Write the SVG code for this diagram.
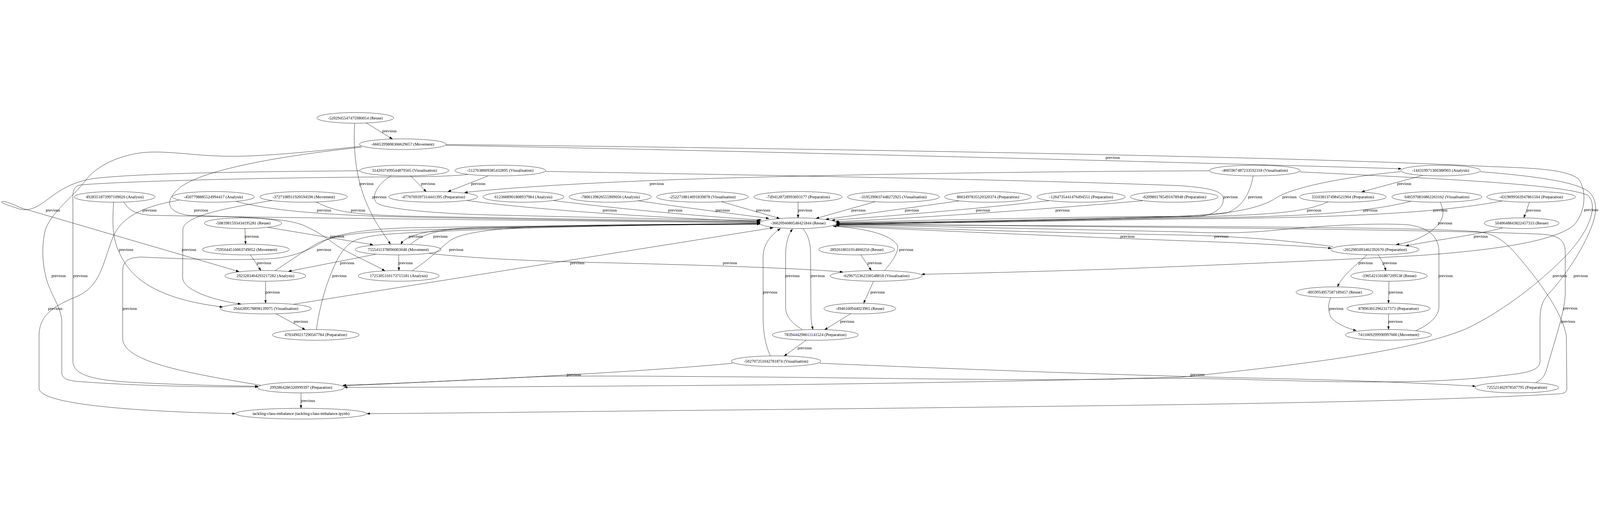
<svg xmlns="http://www.w3.org/2000/svg" width="7043" height="1363" viewBox="0 0 7043 1363" style="width:100%;height:100%">
<style>
.node ellipse{fill:none;stroke:#000;stroke-width:1.3}
text{font-family:"Liberation Serif","Times New Roman",serif;font-size:18.3px;fill:#000}
.node text{text-anchor:middle}
.edge path{fill:none;stroke:#000;stroke-width:1.3;marker-end:url(#arr)}
.edge text{text-anchor:middle}
</style>
<defs>
<marker id="arr" markerUnits="userSpaceOnUse" markerWidth="14" markerHeight="10" refX="13" refY="4.5" orient="auto"><path d="M0,0 L13,4.5 L0,9 z" fill="#000" stroke="#000" stroke-width="1"/></marker>
</defs>
<rect width="7043" height="1363" fill="#fff"/>
<g id="edges">
<g class="edge"><path d="M1612,51 L1727,122"/><text x="1714" y="93">previous</text></g>
<g class="edge"><path d="M1561,53 C1553,200 1575,320 1620,420 C1660,510 1700,550 1718,586"/><text x="1613" y="325">previous</text></g>
<g class="edge"><path d="M1590,154 C1350,180 1150,200 1000,198 C850,196 720,170 620,183 C500,200 420,250 380,300 C320,380 230,440 200,520 C180,600 190,680 200,720 C215,800 272,860 272,930 L272,1150 C272,1180 300,1185 340,1190 C600,1210 900,1215 1136,1214"/><text x="258" y="731">previous</text></g>
<g class="edge"><path d="M1592,158 C1200,200 900,260 800,330 C720,390 730,445 830,458 C1100,468 1250,470 1330,500 C1400,530 1440,560 1480,590 C1560,640 1640,670 1694,703"/><text x="885" y="441">previous</text></g>
<g class="edge"><path d="M2060,278 C1980,288 1800,289 1700,289 C1100,293 500,310 350,325 C315,335 321,370 321,420 L321,1100 C321,1160 400,1185 600,1195 C800,1205 1000,1210 1136,1211"/><text x="354" y="731">previous</text></g>
<g class="edge"><path d="M1584,262 C1200,265 650,270 420,295 C280,315 230,380 170,415 C130,438 100,438 70,425 C30,412 0,402 8,398 C16,394 50,405 90,425 L1052,706"/><text x="233" y="441">previous</text></g>
<g class="edge"><path d="M545,400 C570,440 600,452 660,458 C1200,470 2800,485 3345,491"/><text x="658" y="441">previous</text></g>
<g class="edge"><path d="M1040,397 C1200,440 1450,458 1800,466 C2500,480 3100,486 3346,489"/><text x="1426" y="441">previous</text></g>
<g class="edge"><path d="M1393,400 C1470,440 1540,455 1800,462 C2500,476 3100,482 3347,486"/><text x="1576" y="441">previous</text></g>
<g class="edge"><path d="M1198,393 C1000,425 810,460 805,520 L804,732 C804,790 950,835 1060,849"/><text x="832" y="615">previous</text></g>
<g class="edge"><path d="M500,401 C495,500 490,570 545,660 C620,790 800,840 980,862"/><text x="555" y="615">previous</text></g>
<g class="edge"><path d="M787,392 C620,420 530,470 495,560 C450,680 440,770 340,815 C230,860 172,900 172,990 L172,1220 C172,1300 700,1325 1036,1332"/><text x="243" y="875">previous</text></g>
<g class="edge"><path d="M1722,284 C1660,320 1630,380 1660,405 C1700,430 1900,448 2100,455 C2700,470 3100,478 3346,481"/><text x="1670" y="383">previous</text></g>
<g class="edge"><path d="M1807,284 L1876,354"/><text x="1884" y="325">previous</text></g>
<g class="edge"><path d="M2148,285 L1972,354"/><text x="2105" y="325">previous</text></g>
<g class="edge"><path d="M5323,262 C4500,265 3600,280 3000,300 C2500,318 2200,340 2045,358"/><text x="2891" y="325">previous</text></g>
<g class="edge"><path d="M2056,393 C2400,440 3000,474 3344,485"/><text x="2684" y="441">previous</text></g>
<g class="edge"><path d="M2435,393 C2800,440 3200,470 3352,479"/><text x="2972" y="441">previous</text></g>
<g class="edge"><path d="M2808,394 C3050,430 3300,460 3385,472"/><text x="3181" y="441">previous</text></g>
<g class="edge"><path d="M3175,398 L3432,472"/><text x="3359" y="441">previous</text></g>
<g class="edge"><path d="M3513,400 L3513,469"/><text x="3544" y="441">previous</text></g>
<g class="edge"><path d="M3853,398 L3592,472"/><text x="3779" y="441">previous</text></g>
<g class="edge"><path d="M4221,395 L3635,476"/><text x="4014" y="441">previous</text></g>
<g class="edge"><path d="M4617,394 C4200,440 3800,470 3662,480"/><text x="4327" y="441">previous</text></g>
<g class="edge"><path d="M5030,394 C4500,440 3900,478 3678,486"/><text x="4677" y="441">previous</text></g>
<g class="edge"><path d="M2402,265 C3000,275 4500,300 5200,328 C5330,338 5382,352 5385,385 C5388,430 5330,466 5250,464 C5000,458 4000,482 3682,490"/><text x="5417" y="383">previous</text></g>
<g class="edge"><path d="M5516,285 C5505,350 5475,420 5400,448 C5200,478 4000,488 3683,492"/><text x="5525" y="383">previous</text></g>
<g class="edge"><path d="M6166,266 C5950,285 5700,330 5620,380 C5560,420 5450,452 5200,462 C4500,480 3900,492 3683,494"/><text x="5676" y="383">previous</text></g>
<g class="edge"><path d="M5846,399 C5750,440 5650,456 5200,466 C4500,482 3900,494 3683,496"/><text x="5784" y="441">previous</text></g>
<g class="edge"><path d="M6212,396 C6000,450 5700,466 5200,470 C4500,484 3900,496 3683,497"/><text x="6032" y="441">previous</text></g>
<g class="edge"><path d="M6612,395 C6300,455 5800,470 5200,474 C4500,486 3900,497 3683,499"/><text x="6340" y="441">previous</text></g>
<g class="edge"><path d="M6264,282 L5994,355"/><text x="6181" y="325">previous</text></g>
<g class="edge"><path d="M1963,150 C2800,165 4500,205 6168,253"/><text x="4898" y="209">previous</text></g>
<g class="edge"><path d="M1963,146 C3000,158 5500,190 6550,243 C6750,250 6900,255 6950,300 C6985,350 6980,440 6930,500 C6850,570 6600,610 6250,635 C5800,660 5200,683 4900,695 C4500,708 4250,714 4057,718"/><text x="7004" y="440">previous</text></g>
<g class="edge"><path d="M6340,400 C6355,440 6360,460 6330,500 C6280,555 6200,580 6146,587"/><text x="6361" y="499">previous</text></g>
<g class="edge"><path d="M6732,401 L6708,469"/><text x="6751" y="441">previous</text></g>
<g class="edge"><path d="M6616,513 C6500,545 6300,570 6188,593"/><text x="6518" y="557">previous</text></g>
<g class="edge"><path d="M6017,632 C5970,680 5910,720 5888,773"/><text x="6011" y="673">previous</text></g>
<g class="edge"><path d="M6066,632 C6085,660 6095,680 6100,702"/><text x="6117" y="673">previous</text></g>
<g class="edge"><path d="M6114,749 L6112,845"/><text x="6144" y="803">previous</text></g>
<g class="edge"><path d="M6112,893 L6112,961"/><text x="6142" y="932">previous</text></g>
<g class="edge"><path d="M5858,821 C5845,850 5845,880 5860,910 C5890,940 5930,955 5970,966"/><text x="5882" y="875">previous</text></g>
<g class="edge"><path d="M6232,967 C6300,935 6334,900 6334,860 L6334,620 C6334,560 6300,515 6200,500 C6050,490 5800,505 5600,525 C5450,540 5300,535 5200,531 C4700,520 4000,505 3681,500"/><text x="6363" y="731">previous</text></g>
<g class="edge"><path d="M3665,505 C4200,530 4800,555 5200,570 C5500,580 5700,592 5860,603"/><text x="4963" y="557">previous</text></g>
<g class="edge"><path d="M5868,596 C5600,560 5400,550 5200,545 C4500,532 4000,515 3680,502"/><text x="5376" y="557">previous</text></g>
<g class="edge"><path d="M3678,498 C4200,502 4800,505 5200,507 C5700,510 6300,515 6500,530 C6600,540 6640,590 6700,660 C6800,780 6880,900 6895,990 L6897,1220 C6898,1238 6885,1243 6860,1245 C6500,1265 6000,1280 5200,1292 C4500,1302 3400,1314 3000,1318 C2500,1323 2000,1330 1615,1332"/><text x="6902" y="932">previous</text></g>
<g class="edge"><path d="M6761,1195 C6790,1180 6800,1165 6810,1130 C6840,1020 6890,880 6890,800 L6890,620 C6890,560 6850,545 6780,541 C6500,530 6000,520 5200,512 C4500,505 4000,499 3683,496"/><text x="6912" y="874">previous</text></g>
<g class="edge"><path d="M6516,266 C6750,285 6950,310 7000,360 C7040,410 7030,470 6968,591 C6930,660 6890,720 6830,790 C6790,830 6779,860 6779,920 L6779,1100 C6779,1135 6740,1150 6650,1160 C6400,1190 6200,1196 5800,1190 C5400,1180 5200,1171 4900,1180 C4600,1186 4200,1180 3400,1171 C3000,1168 2600,1164 2400,1168 C2100,1180 1800,1198 1510,1209"/><text x="6958" y="730">previous</text></g>
<g class="edge"><path d="M5722,267 C6300,295 6880,320 6990,370 C7040,420 6990,540 6880,650 C6780,750 6620,880 6450,960 C6250,1040 5900,1100 5200,1171 C4500,1190 3800,1200 3400,1205 C2800,1210 2000,1216 1516,1216"/><text x="6866" y="730">previous</text></g>
<g class="edge"><path d="M3608,1110 C4200,1135 5000,1165 5500,1175 C6000,1185 6300,1200 6495,1211"/><text x="5271" y="1165">previous</text></g>
<g class="edge"><path d="M3225,1110 C2800,1150 2000,1190 1510,1207"/><text x="2526" y="1165">previous</text></g>
<g class="edge"><path d="M3391,1078 C3370,1030 3359,980 3359,900 L3359,640 C3360,580 3400,540 3435,517"/><text x="3390" y="803">previous</text></g>
<g class="edge"><path d="M3532,962 C3480,930 3458,900 3458,860 L3458,640 C3458,580 3470,545 3488,519"/><text x="3488" y="731">previous</text></g>
<g class="edge"><path d="M3533,516 C3555,540 3568,575 3568,630 L3570,900 C3571,930 3575,945 3578,961"/><text x="3599" y="731">previous</text></g>
<g class="edge"><path d="M3894,701 C3920,670 3960,620 3950,590 C3920,540 3800,515 3668,506"/><text x="3989" y="615">previous</text></g>
<g class="edge"><path d="M3789,632 L3835,701"/><text x="3850" y="673">previous</text></g>
<g class="edge"><path d="M3845,749 L3802,845"/><text x="3863" y="803">previous</text></g>
<g class="edge"><path d="M3744,892 L3630,962"/><text x="3729" y="932">previous</text></g>
<g class="edge"><path d="M3549,1008 L3452,1078"/><text x="3542" y="1048">previous</text></g>
<g class="edge"><path d="M1889,626 C2100,650 2400,662 2700,668 C3100,678 3500,690 3710,708"/><text x="3213" y="673">previous</text></g>
<g class="edge"><path d="M1292,850 L3403,513"/><text x="2541" y="673">previous</text></g>
<g class="edge"><path d="M1755,633 L1756,701"/><text x="1785" y="673">previous</text></g>
<g class="edge"><path d="M1653,630 L1270,705"/><text x="1528" y="673">previous</text></g>
<g class="edge"><path d="M1177,511 L1642,588"/><text x="1484" y="557">previous</text></g>
<g class="edge"><path d="M3345,497 C3000,500 2500,505 2100,512 C1900,520 1790,540 1765,585"/><text x="1830" y="557">previous</text></g>
<g class="edge"><path d="M1806,586 C1840,560 1880,530 2000,520 C2400,505 3000,497 3345,494"/><text x="1939" y="557">previous</text></g>
<g class="edge"><path d="M1815,702 C1880,660 1930,610 1980,570 C2050,520 2300,505 2700,500 C3000,497 3200,496 3345,495"/><text x="2008" y="615">previous</text></g>
<g class="edge"><path d="M1393,962 C1400,900 1420,820 1440,760 C1470,680 1500,600 1560,570 C1620,545 1700,542 1800,535 C2200,515 2800,500 3345,496"/><text x="1494" y="731">previous</text></g>
<g class="edge"><path d="M1211,702 C1260,670 1330,620 1400,580 C1470,545 1600,530 1800,524 C2300,510 2900,498 3345,495"/><text x="1426" y="615">previous</text></g>
<g class="edge"><path d="M1078,516 L1081,585"/><text x="1108" y="557">previous</text></g>
<g class="edge"><path d="M1102,632 L1148,701"/><text x="1162" y="673">previous</text></g>
<g class="edge"><path d="M1169,749 L1169,845"/><text x="1200" y="803">previous</text></g>
<g class="edge"><path d="M1215,892 L1343,962"/><text x="1324" y="932">previous</text></g>
<g class="edge"><path d="M1148,1207 C800,1150 540,1100 540,1000 L540,710 C540,660 560,645 620,642 C800,650 1000,658 1180,650 C1300,645 1380,600 1420,575 C1480,540 1600,520 1800,513 C2300,505 2900,500 3345,497"/><text x="571" y="875">previous</text></g>
<g class="edge"><path d="M1325,1241 L1325,1308"/><text x="1355" y="1281">previous</text></g>
</g>
<g id="n_5202" class="node"><ellipse cx="1564" cy="29" rx="169" ry="23.5"/><text x="1564" y="35">-5202945547475980054 (Reuse)</text></g>
<g id="n_6665" class="node"><ellipse cx="1773" cy="145" rx="191" ry="23.5"/><text x="1773" y="151">-6665399808366629657 (Movement)</text></g>
<g id="n_3142" class="node"><ellipse cx="1780" cy="261" rx="196" ry="23.5"/><text x="1780" y="267">3142037499544879565 (Visualisation)</text></g>
<g id="n_5127" class="node"><ellipse cx="2202" cy="261" rx="200" ry="23.5"/><text x="2202" y="267">-5127638009385432895 (Visualisation)</text></g>
<g id="n_4605" class="node"><ellipse cx="5523" cy="261" rx="200" ry="23.5"/><text x="5523" y="267">-4605967487233592318 (Visualisation)</text></g>
<g id="n_1443" class="node"><ellipse cx="6341" cy="261" rx="175" ry="23.5"/><text x="6341" y="267">-144319971300388903 (Analysis)</text></g>
<g id="n_4928" class="node"><ellipse cx="505" cy="377" rx="178" ry="23.5"/><text x="505" y="383">4928351873997109026 (Analysis)</text></g>
<g id="n_4507" class="node"><ellipse cx="939" cy="377" rx="181" ry="23.5"/><text x="939" y="383">-4507798885524994417 (Analysis)</text></g>
<g id="n_3727" class="node"><ellipse cx="1337" cy="377" rx="192" ry="23.5"/><text x="1337" y="383">-3727108911920594596 (Movement)</text></g>
<g id="n_4776" class="node"><ellipse cx="1907" cy="377" rx="196" ry="23.5"/><text x="1907" y="383">-4776769397314441395 (Preparation)</text></g>
<g id="n_6123" class="node"><ellipse cx="2304" cy="377" rx="178" ry="23.5"/><text x="2304" y="383">6123688901808937984 (Analysis)</text></g>
<g id="n_7806" class="node"><ellipse cx="2686" cy="377" rx="181" ry="23.5"/><text x="2686" y="383">-7806139826555909056 (Analysis)</text></g>
<g id="n_2522" class="node"><ellipse cx="3092" cy="377" rx="202" ry="23.5"/><text x="3092" y="383">-2522718814691839878 (Visualisation)</text></g>
<g id="n_7494" class="node"><ellipse cx="3513" cy="377" rx="194" ry="23.5"/><text x="3513" y="383">-7494128728993693177 (Preparation)</text></g>
<g id="n_3105" class="node"><ellipse cx="3933" cy="377" rx="202" ry="23.5"/><text x="3933" y="383">-3105390637448272925 (Visualisation)</text></g>
<g id="n_8663" class="node"><ellipse cx="4349" cy="377" rx="191" ry="23.5"/><text x="4349" y="383">8663497835520320374 (Preparation)</text></g>
<g id="n_1264" class="node"><ellipse cx="4759" cy="377" rx="194" ry="23.5"/><text x="4759" y="383">-1264735441476494551 (Preparation)</text></g>
<g id="n_6209" class="node"><ellipse cx="5169" cy="377" rx="193" ry="23.5"/><text x="5169" y="383">-6209801785491678948 (Preparation)</text></g>
<g id="n_3310" class="node"><ellipse cx="5911" cy="377" rx="191" ry="23.5"/><text x="5911" y="383">3310381374984521904 (Preparation)</text></g>
<g id="n_6465" class="node"><ellipse cx="6325" cy="377" rx="198" ry="23.5"/><text x="6325" y="383">6465970816862263162 (Visualisation)</text></g>
<g id="n_4319" class="node"><ellipse cx="6740" cy="377" rx="195" ry="23.5"/><text x="6740" y="383">-4319099563947861504 (Preparation)</text></g>
<g id="n_3602" class="node"><ellipse cx="3513" cy="493" rx="169" ry="23.5"/><text x="3513" y="499">-3602094680548421844 (Reuse)</text></g>
<g id="n_5083" class="node"><ellipse cx="1070" cy="493" rx="170" ry="23.5"/><text x="1070" y="499">-5083981593434195281 (Reuse)</text></g>
<g id="n_5040" class="node"><ellipse cx="6698" cy="493" rx="165" ry="23.5"/><text x="6698" y="499">5040648843822457333 (Reuse)</text></g>
<g id="n_7595" class="node"><ellipse cx="1082" cy="609" rx="192" ry="23.5"/><text x="1082" y="615">-7595644516063749052 (Movement)</text></g>
<g id="n_7555" class="node"><ellipse cx="1753" cy="609" rx="189" ry="23.5"/><text x="1753" y="615">7555411378096003048 (Movement)</text></g>
<g id="n_2892" class="node"><ellipse cx="3771" cy="609" rx="167" ry="23.5"/><text x="3771" y="615">2892618031914860256 (Reuse)</text></g>
<g id="n_2652" class="node"><ellipse cx="6052" cy="609" rx="194" ry="23.5"/><text x="6052" y="615">-2652985093462392670 (Preparation)</text></g>
<g id="n_2923" class="node"><ellipse cx="1168" cy="725" rx="178" ry="23.5"/><text x="1168" y="731">2923283404293217282 (Analysis)</text></g>
<g id="n_1725" class="node"><ellipse cx="1755" cy="725" rx="178" ry="23.5"/><text x="1755" y="731">1725305316173715181 (Analysis)</text></g>
<g id="n_6296" class="node"><ellipse cx="3857" cy="725" rx="203" ry="23.5"/><text x="3857" y="731">-6296755362330548818 (Visualisation)</text></g>
<g id="n_1965" class="node"><ellipse cx="6114" cy="725" rx="168" ry="23.5"/><text x="6114" y="731">-1965421501807209538 (Reuse)</text></g>
<g id="n_8059" class="node"><ellipse cx="5874" cy="797" rx="169" ry="23.5"/><text x="5874" y="803">-8059954957587189457 (Reuse)</text></g>
<g id="n_2644" class="node"><ellipse cx="1170" cy="869" rx="200" ry="23.5"/><text x="1170" y="875">2644289578898139975 (Visualisation)</text></g>
<g id="n_4946" class="node"><ellipse cx="3785" cy="869" rx="158" ry="23.5"/><text x="3785" y="875">-4946160944023965 (Reuse)</text></g>
<g id="n_8789" class="node"><ellipse cx="6112" cy="869" rx="183" ry="23.5"/><text x="6112" y="875">878963012962317373 (Preparation)</text></g>
<g id="n_4703" class="node"><ellipse cx="1390" cy="985" rx="191" ry="23.5"/><text x="1390" y="991">4703490217290567784 (Preparation)</text></g>
<g id="n_7839" class="node"><ellipse cx="3589" cy="985" rx="189" ry="23.5"/><text x="3589" y="991">7839444298611141524 (Preparation)</text></g>
<g id="n_7411" class="node"><ellipse cx="6112" cy="985" rx="189" ry="23.5"/><text x="6112" y="991">7411669299990997600 (Movement)</text></g>
<g id="n_5027" class="node"><ellipse cx="3416" cy="1101" rx="197" ry="23.5"/><text x="3416" y="1107">-502707251042781874 (Visualisation)</text></g>
<g id="n_2992" class="node"><ellipse cx="1325" cy="1217" rx="191" ry="23.5"/><text x="1325" y="1223">2992864286320999397 (Preparation)</text></g>
<g id="n_7255" class="node"><ellipse cx="6677" cy="1217" rx="184" ry="23.5"/><text x="6677" y="1223">725521402978507795 (Preparation)</text></g>
<g id="n_tackling" class="node"><ellipse cx="1325" cy="1332" rx="289" ry="23.5"/><text x="1325" y="1338">tackling-class-imbalance (tackling-class-imbalance.ipynb)</text></g>
</svg>
